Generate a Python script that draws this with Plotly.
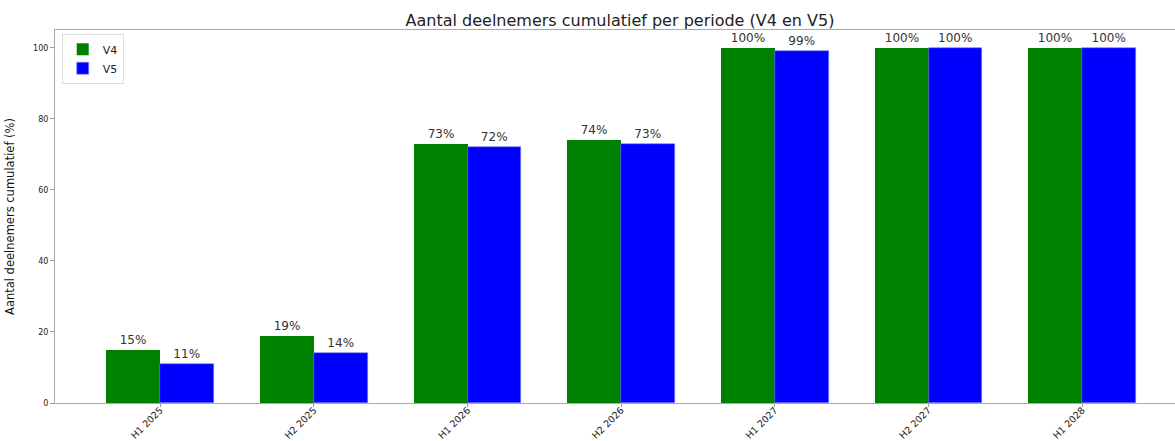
import plotly.graph_objects as go

categories = ["H1 2025", "H2 2025", "H1 2026", "H2 2026", "H1 2027", "H2 2027", "H1 2028"]
v4_values = [15, 19, 73, 74, 100, 100, 100]
v5_values = [11, 14, 72, 73, 99, 100, 100]
y_ticks = [0, 20, 40, 60, 80, 100]

FONT = "DejaVu Sans"
n = len(categories)
xs = list(range(n))
w = 0.35

fig = go.Figure()
fig.add_trace(go.Bar(
    x=[i - w / 2 for i in xs], y=v4_values, width=w, name="V4",
    marker=dict(color="#008000", line=dict(width=0)),
    text=[f"{v}%" for v in v4_values], textposition="outside",
    textfont=dict(family=FONT, size=12, color="#333333"), cliponaxis=False,
))
fig.add_trace(go.Bar(
    x=[i + w / 2 for i in xs], y=v5_values, width=w, name="V5",
    marker=dict(color="#0000ff", line=dict(width=0.6, color="#8080ff")),
    text=[f"{v}%" for v in v5_values], textposition="outside",
    textfont=dict(family=FONT, size=12, color="#333333"), cliponaxis=False,
))

fig.update_layout(
    width=1175, height=441,
    margin=dict(l=55, r=0, t=30, b=38, autoexpand=False),
    paper_bgcolor="white", plot_bgcolor="white",
    barmode="overlay", bargap=0,
    font=dict(family=FONT, color="#222222"),
    title=dict(text="Aantal deelnemers cumulatief per periode (V4 en V5)",
               x=620 / 1175, xref="container", xanchor="center",
               y=1 - 20 / 441, yref="container", yanchor="middle",
               automargin=False,
               font=dict(family=FONT, size=16, color="#222222")),
    showlegend=True,
    legend=dict(x=0.006, y=0.99, xanchor="left", yanchor="top",
                bgcolor="white", bordercolor="#dddddd", borderwidth=1,
                font=dict(family=FONT, size=11), tracegroupgap=0, itemwidth=30),
)
fig.update_xaxes(
    automargin=False,
    range=[-0.685, 6.604], tickmode="array", tickvals=xs, ticktext=categories,
    tickangle=-45, ticks="outside", ticklen=3, tickcolor="#999999",
    ticklabelstandoff=-6,
    showline=True, linecolor="#aaaaaa", linewidth=1, mirror=True,
    showgrid=False, zeroline=False,
    tickfont=dict(family=FONT, size=9.5, color="#222222"),
)
fig.update_yaxes(
    automargin=False,
    range=[0, 105], tickmode="array", tickvals=y_ticks,
    ticks="outside", ticklen=4, tickcolor="#999999",
    showline=True, linecolor="#aaaaaa", linewidth=1, mirror=False,
    showgrid=False, zeroline=False,
    tickfont=dict(family=FONT, size=8, color="#222222"),
    title=dict(text="Aantal deelnemers cumulatief (%)", standoff=16,
               font=dict(family=FONT, size=11.5, color="#111111")),
)

fig.write_html("out.html", config={"displayModeBar": False},
               post_script="document.body.style.margin='0';document.body.style.overflow='hidden';")
